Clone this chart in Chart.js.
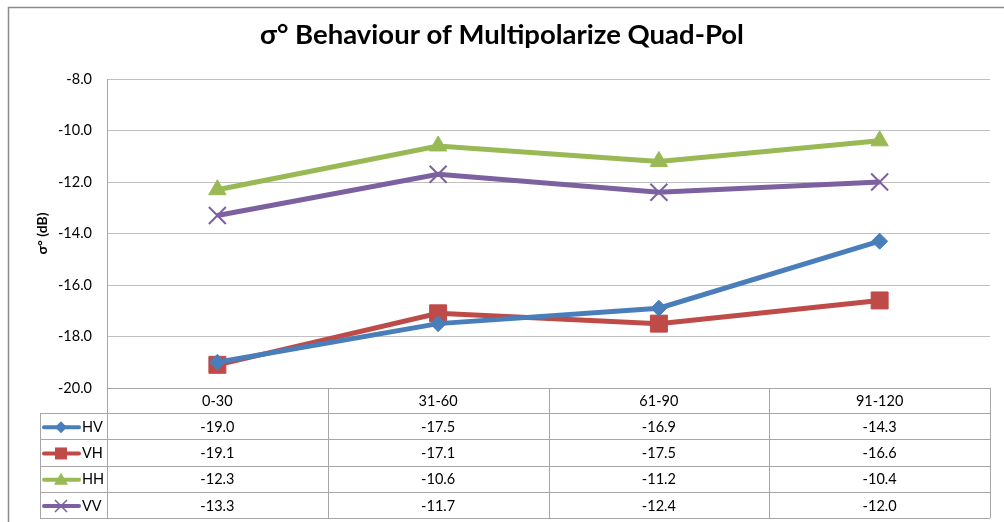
<!DOCTYPE html>
<html>
<head>
<meta charset="utf-8">
<script src="https://cdn.jsdelivr.net/npm/chart.js@4.4.0/dist/chart.umd.min.js"></script>
<style>
  html, body { margin: 0; padding: 0; background: #fff; }
  #wrap { width: 1004px; height: 522px; }
</style>
</head>
<body>
<div id="wrap"><canvas id="chart"></canvas></div>
<script>
// chart data
const categories = ['0-30', '31-60', '61-90', '91-120'];
const seriesNames = ['HV', 'VH', 'HH', 'VV'];
const hv = [-19.0, -17.5, -16.9, -14.3];
const vh = [-19.1, -17.1, -17.5, -16.6];
const hh = [-12.3, -10.6, -11.2, -10.4];
const vv = [-13.3, -11.7, -12.4, -12.0];
const yTicks = [-20, -18, -16, -14, -12, -10, -8];

const colors = ['#4A7EBB', '#BE4B48', '#98B954', '#7D60A0'];
const markers = ['rectRot', 'rect', 'triangle', 'crossRot'];
const markerSizes = [8, 12, 10, 12];
const FONT = 'Lato, "Open Sans", sans-serif';

// small marker painter for the legend keys in the table
function drawKey(ctx, style, x, y, color) {
    ctx.save();
    ctx.fillStyle = color;
    ctx.strokeStyle = color;
    ctx.beginPath();
    if (style === 'rectRot') {
        ctx.moveTo(x, y - 6); ctx.lineTo(x + 6, y); ctx.lineTo(x, y + 6); ctx.lineTo(x - 6, y);
        ctx.closePath(); ctx.fill();
    } else if (style === 'rect') {
        ctx.rect(x - 6, y - 6, 12, 12); ctx.fill();
    } else if (style === 'triangle') {
        ctx.moveTo(x, y - 7); ctx.lineTo(x + 7, y + 5); ctx.lineTo(x - 7, y + 5);
        ctx.closePath(); ctx.fill();
    } else {
        ctx.lineWidth = 1.5;
        ctx.moveTo(x - 6, y - 6); ctx.lineTo(x + 6, y + 6);
        ctx.moveTo(x + 6, y - 6); ctx.lineTo(x - 6, y + 6);
        ctx.stroke();
    }
    ctx.restore();
}

const tablePlugin = {
    id: 'dataTable',
    afterDraw(chart) {
        const ctx = chart.ctx;
        const area = chart.chartArea;
        const n = categories.length;
        const colW = (area.right - area.left) / n;
        const rowH = 26.3;
        const catTop = area.bottom;
        const catBottom = catTop + 25;
        const tableLeft = 40;
        const rows = [hv, vh, hh, vv];
        const tableBottom = catBottom + rowH * rows.length;

        ctx.save();
        // outer chart border (left and top visible)
        ctx.strokeStyle = '#8c8c8c';
        ctx.lineWidth = 1.5;
        ctx.strokeRect(8.5, 7.5, 1100, 600);

        // title
        ctx.fillStyle = '#000';
        ctx.font = 'bold 27.5px ' + FONT;
        ctx.textAlign = 'center';
        ctx.textBaseline = 'middle';
        ctx.fillText('σ° Behaviour of Multipolarize Quad-Pol', 502, 35);

        // table grid
        ctx.strokeStyle = '#a6a6a6';
        ctx.lineWidth = 1;
        ctx.beginPath();
        ctx.moveTo(area.left, catTop + 0.5); ctx.lineTo(area.right, catTop + 0.5);
        for (let r = 0; r <= rows.length; r++) {
            const y = Math.round(catBottom + r * rowH) + 0.5;
            ctx.moveTo(tableLeft, y); ctx.lineTo(area.right, y);
        }
        for (let i = 0; i <= n; i++) {
            const x = Math.round(area.left + i * colW) + 0.5;
            ctx.moveTo(x, catTop); ctx.lineTo(x, tableBottom);
        }
        ctx.moveTo(tableLeft + 0.5, catBottom); ctx.lineTo(tableLeft + 0.5, tableBottom);
        ctx.stroke();

        // category labels
        ctx.fillStyle = '#000';
        ctx.font = '14.5px ' + FONT;
        ctx.textAlign = 'center';
        categories.forEach((c, i) => {
            ctx.fillText(c, chart.scales.x.getPixelForValue(i), (catTop + catBottom) / 2 + 1);
        });

        // value rows with legend keys
        rows.forEach((vals, r) => {
            const yc = catBottom + r * rowH + rowH / 2 + 1;
            ctx.save();
            ctx.strokeStyle = colors[r];
            ctx.lineWidth = 4;
            ctx.lineCap = 'round';
            ctx.beginPath();
            ctx.moveTo(44, yc); ctx.lineTo(79, yc);
            ctx.stroke();
            ctx.restore();
            drawKey(ctx, markers[r], 61, yc, colors[r]);
            ctx.fillStyle = '#000';
            ctx.textAlign = 'left';
            ctx.fillText(seriesNames[r], 82, yc);
            ctx.textAlign = 'center';
            vals.forEach((v, i) => {
                ctx.fillText(v.toFixed(1), chart.scales.x.getPixelForValue(i), yc);
            });
        });
        ctx.restore();
    }
};

const datasets = [hv, vh, hh, vv].map((vals, i) => ({
    label: seriesNames[i],
    data: vals,
    borderColor: colors[i],
    backgroundColor: colors[i],
    borderWidth: 5,
    pointStyle: markers[i],
    pointRadius: markerSizes[i],
    pointHoverRadius: markerSizes[i],
    pointBorderWidth: markers[i] === 'crossRot' ? 2 : 1,
    tension: 0
}));

new Chart(document.getElementById('chart').getContext('2d'), {
    type: 'line',
    data: { labels: categories, datasets: datasets },
    options: {
        responsive: true,
        maintainAspectRatio: false,
        animation: false,
        layout: { padding: { top: 79, right: 9, bottom: 134, left: 0 } },
        plugins: {
            legend: { display: false },
            title: { display: false },
            tooltip: { enabled: false }
        },
        scales: {
            x: {
                display: false,
                offset: true
            },
            y: {
                min: -20,
                max: -8,
                afterFit(scale) { scale.width = 107; },
                afterBuildTicks(scale) { scale.ticks = yTicks.map(v => ({ value: v })); },
                grid: { color: '#c0c0c0', lineWidth: 1, drawTicks: false },
                border: { display: true, color: '#a6a6a6' },
                ticks: {
                    padding: 15,
                    color: '#000',
                    font: { family: FONT, size: 14.5 },
                    callback: v => v.toFixed(1)
                },
                title: {
                    display: true,
                    text: 'σ° (dB)',
                    color: '#000',
                    font: { family: FONT, size: 14, weight: 'bold' },
                    padding: { top: 34, bottom: 0 }
                }
            }
        }
    },
    plugins: [tablePlugin]
});
</script>
</body>
</html>
